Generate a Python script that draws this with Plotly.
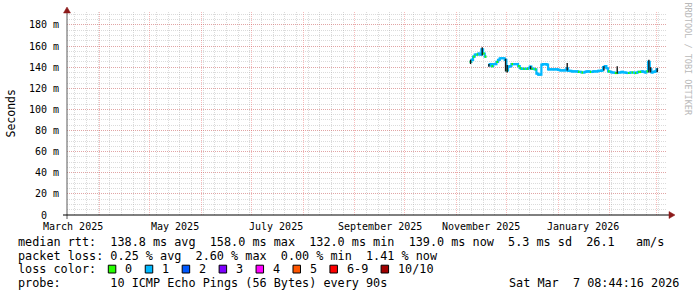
import pandas as pd
import plotly.graph_objects as go

# ---------------- data ----------------
t_start = "2025-03-12 08:44:16"
t_end = "2026-03-07 08:44:16"

first_day = "2025-11-09"
median_ms = [
    145, 147, 150, 152, 152, 153, 152, 157, 153, 150,
    None, 142, 143, 141, 143, 143, 145, 147, 148.5, 148.5,
    148.5, 147, 137, 140.5, 141, 143, 143, 143, 143, 141,
    139, 138.5, 138.5, 138.5, 138.5, 139, 140.5, 138.5, 138.5, 138,
    134, 133, 133, 142.5, 143, 143, 142.5, 138, 138, 138,
    138, 138, 138, 137.5, 137, 137, 137, 137, 139, 136.5,
    136.5, 136, 136, 136, 136, 135.5, 135.5, 135, 135, 135.5,
    136, 136, 135.5, 135.5, 136, 136, 136, 136.5, 136.5, 137,
    140, 141, 139, 136, 135.5, 135, 135, 134.5, 134.5, 135,
    135, 135.5, 135, 135, 134.5, 134.5, 135, 135, 135, 134.5,
    135, 135.5, 135.5, 136, 135.5, 135, 136, 145, 138, 135,
    135.5, 136, 138,
]
loss_count = [
    0, 1, 0, 1, 0, 1, 1, 1, 0, 0,
    None, 1, 1, 0, 1, 1, 0, 1, 1, 1,
    1, 1, 0, 1, 1, 0, 1, 1, 1, 0,
    0, 1, 0, 1, 0, 1, 1, 0, 1, 0,
    1, 1, 1, 1, 1, 1, 1, 1, 1, 1,
    1, 1, 1, 1, 1, 1, 1, 1, 1, 1,
    1, 1, 1, 1, 1, 0, 1, 0, 1, 1,
    1, 1, 0, 1, 1, 1, 1, 1, 1, 1,
    1, 1, 1, 0, 1, 1, 1, 0, 0, 1,
    1, 1, 1, 1, 1, 0, 1, 0, 1, 0,
    1, 0, 0, 1, 1, 1, 0, 1, 1, 1,
    1, 1, 1,
]
smoke_day = [0, 7, 11, 21, 22, 36, 58, 80, 88, 107, 108, 112]
smoke_lo = [143, 151, 140.5, 136, 135, 138, 137, 137, 134, 135, 135, 135.5]
smoke_hi = [147, 159, 143, 148, 142, 141, 144, 141, 141, 147, 140, 139]

y_tick_vals = [0, 20, 40, 60, 80, 100, 120, 140, 160, 180]
y_tick_text = ["0  ", "20 m", "40 m", "60 m", "80 m", "100 m", "120 m", "140 m", "160 m", "180 m"]

month_labels = ["March 2025", "May 2025", "July 2025", "September 2025", "November 2025", "January 2026"]
month_label_dates = ["2025-03-16", "2025-05-16", "2025-07-16", "2025-09-16", "2025-11-16", "2026-01-16"]

loss_labels = ["0", "1", "2", "3", "4", "5", "6-9", "10/10"]
loss_colors = ["#26ff00", "#00b8ff", "#0059ff", "#7e00ff", "#ff00ff", "#ff5500", "#ff0000", "#a10000"]

legend_line1 = "median rtt:  138.8 ms avg  158.0 ms max  132.0 ms min  139.0 ms now  5.3 ms sd  26.1   am/s"
legend_line2 = "packet loss: 0.25 % avg  2.60 % max  0.00 % min  1.41 % now"
legend_line3 = "loss color:"
legend_line4 = "probe:       10 ICMP Echo Pings (56 Bytes) every 90s"
stamp = "Sat Mar  7 08:44:16 2026"
watermark = "RRDTOOL / TOBI OETIKER"
y_title = "Seconds"

# ---------------- layout geometry ----------------
W, H = 697, 297
L, R, T, B = 67, 30, 12, 82
PW, PH = W - L - R, H - T - B
Y_MAX = 192.3
MONO = "DejaVu Sans Mono"


def px(xp):
    return (xp - L) / PW


def py(yp):
    return (T + PH - yp) / PH


def nb(s):
    return s.replace(" ", "\u00a0")


days = pd.date_range(first_day, periods=len(median_ms), freq="D")
one_day = pd.Timedelta(days=1)
half_day = pd.Timedelta(hours=12)

fig = go.Figure()

LW = 2.2
# base median line (step, per consolidated day)
bx, by = [], []
run = []
for i, v in enumerate(median_ms + [None]):
    if v is not None:
        run.append(i)
    elif run:
        for j in run:
            bx.append(days[j]); by.append(median_ms[j])
        bx.append(days[run[-1]] + one_day); by.append(median_ms[run[-1]])
        bx.append(None); by.append(None)
        run = []
fig.add_trace(go.Scatter(x=bx, y=by, mode="lines", line=dict(color=loss_colors[1], width=LW, shape="hv"),
                         hoverinfo="skip", showlegend=False))

# coloured horizontal pieces per loss count
for code in sorted(set(c for c in loss_count if c is not None)):
    sx, sy = [], []
    for i, (v, c) in enumerate(zip(median_ms, loss_count)):
        if v is None or c != code:
            continue
        sx += [days[i], days[i] + one_day, None]
        sy += [v, v, None]
    fig.add_trace(go.Scatter(x=sx, y=sy, mode="lines", line=dict(color=loss_colors[code], width=LW),
                             hoverinfo="skip", showlegend=False))

# smoke spikes
kx, ky = [], []
for d, lo, hi in zip(smoke_day, smoke_lo, smoke_hi):
    kx += [days[d] + half_day, days[d] + half_day, None]
    ky += [lo, hi, None]
fig.add_trace(go.Scatter(x=kx, y=ky, mode="lines", line=dict(color="#1a1a1a", width=1.4),
                         hoverinfo="skip", showlegend=False))

minor_grid = "rgba(150,150,150,0.34)"
major_grid = "rgba(235,70,70,0.36)"

fig.update_layout(
    width=W, height=H,
    margin=dict(l=L, r=R, t=T, b=B, pad=0),
    paper_bgcolor="white", plot_bgcolor="white",
    showlegend=False,
    xaxis=dict(
        range=[t_start, t_end], type="date",
        tickmode="linear", tick0="2025-03-01", dtick="M1",
        showticklabels=False, ticks="",
        showgrid=True, gridcolor=major_grid, griddash="1px,1px", gridwidth=1,
        minor=dict(tickmode="linear", tick0="2025-03-17", dtick=7 * 86400000,
                   showgrid=True, gridcolor=minor_grid, griddash="1px,1px", gridwidth=1, ticks=""),
        zeroline=False, showline=False, fixedrange=True,
    ),
    yaxis=dict(
        range=[0, Y_MAX],
        tickmode="array", tickvals=y_tick_vals, showticklabels=False, ticks="",
        showgrid=True, gridcolor=major_grid, griddash="1px,1px", gridwidth=1,
        minor=dict(tickmode="linear", tick0=0, dtick=5,
                   showgrid=True, gridcolor=minor_grid, griddash="1px,1px", gridwidth=1, ticks=""),
        zeroline=False, showline=False, fixedrange=True,
    ),
)

anns = []
# y tick labels
for v, t in zip(y_tick_vals, y_tick_text):
    anns.append(dict(x=px(61), xref="paper", y=v, yref="y", text=nb(t), showarrow=False,
                     xanchor="right", yanchor="middle", font=dict(family=MONO, size=10, color="black")))
# month labels
for d, t in zip(month_label_dates, month_labels):
    anns.append(dict(x=d, xref="x", y=py(226.5), yref="paper", text=nb(t), showarrow=False,
                     xanchor="center", yanchor="middle", font=dict(family=MONO, size=10, color="black")))
# y title
anns.append(dict(x=px(10), xref="paper", y=py(113.5), yref="paper", text=y_title, textangle=-90,
                 showarrow=False, xanchor="center", yanchor="middle",
                 font=dict(family=MONO, size=11.5, color="black")))
# watermark
anns.append(dict(x=px(687.5), xref="paper", y=py(59), yref="paper", text=nb(watermark), textangle=90,
                 showarrow=False, xanchor="center", yanchor="middle",
                 font=dict(family=MONO, size=8.5, color="#b8b8b8")))
# legend text lines
LF = 11.8
for text, yy in [(legend_line1, 241.7), (legend_line2, 255.7), (legend_line3, 269.3), (legend_line4, 283.3)]:
    anns.append(dict(x=px(16), xref="paper", y=py(yy), yref="paper", text=nb(text), showarrow=False,
                     xanchor="left", yanchor="middle", font=dict(family=MONO, size=LF, color="black")))
anns.append(dict(x=px(681), xref="paper", y=py(283.3), yref="paper", text=nb(stamp), showarrow=False,
                 xanchor="right", yanchor="middle", font=dict(family=MONO, size=LF, color="black")))

shapes = []
# loss colour boxes
char_w = LF * 0.602
tx = 123.3
for lab, col in zip(loss_labels, loss_colors):
    shapes.append(dict(type="rect", xref="paper", yref="paper",
                       x0=px(tx - 15), x1=px(tx - 7.5), y0=py(273), y1=py(265.2),
                       fillcolor=col, line=dict(color="black", width=1)))
    anns.append(dict(x=px(tx), xref="paper", y=py(269.3), yref="paper", text=nb(lab), showarrow=False,
                     xanchor="left", yanchor="middle", font=dict(family=MONO, size=LF, color="black")))
    tx += (len(lab) + 4.2) * char_w

# axes with arrows
shapes.append(dict(type="line", xref="paper", yref="paper", x0=px(67), x1=px(67), y0=py(219), y1=py(11),
                   line=dict(color="#5a5a5a", width=1)))
shapes.append(dict(type="line", xref="paper", yref="paper", x0=px(63), x1=px(670), y0=py(215), y1=py(215),
                   line=dict(color="black", width=1)))
arrow = "#8c1a1a"
shapes.append(dict(type="path", xref="paper", yref="paper",
                   path=f"M {px(669)},{py(211.5)} L {px(669)},{py(218.5)} L {px(675)},{py(215)} Z",
                   fillcolor=arrow, line=dict(color=arrow, width=0.5)))
shapes.append(dict(type="path", xref="paper", yref="paper",
                   path=f"M {px(63.5)},{py(13)} L {px(70.5)},{py(13)} L {px(67)},{py(7)} Z",
                   fillcolor=arrow, line=dict(color=arrow, width=0.5)))

fig.update_layout(annotations=anns, shapes=shapes)

fig.write_html("out.html", config={"displayModeBar": False, "staticPlot": True})
